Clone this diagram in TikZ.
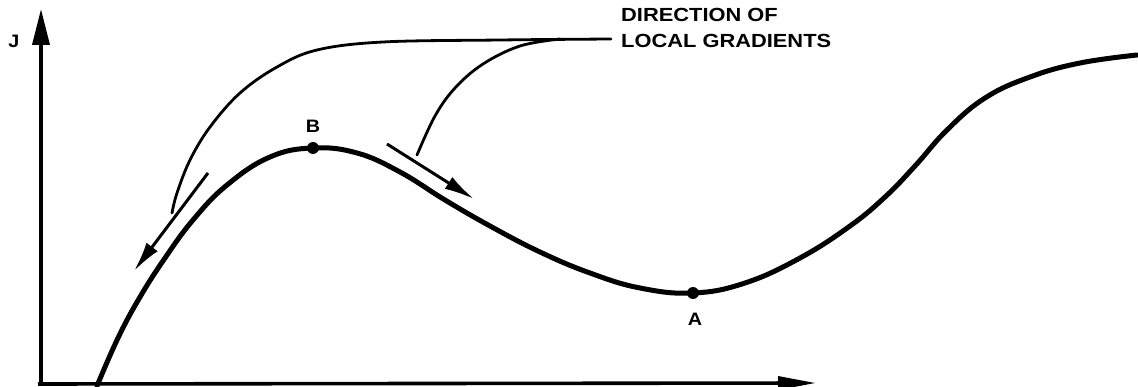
\documentclass[tikz,border=0pt]{standalone}
\usepackage{fontspec}
\setmainfont{Liberation Sans}
\usetikzlibrary{arrows.meta}
\begin{document}
\begin{tikzpicture}[x=1pt,y=-1pt,
  curve/.style={line width=5pt,line cap=round,line join=round},
  axis/.style={line width=3.6pt},
  leader/.style={line width=2.8pt,line cap=round},
  grad/.style={line width=3pt,-{Latex[length=30pt,width=14pt]}},
  dot/.style={circle,fill=black,inner sep=0pt,minimum size=12pt},
  lbl/.style={font=\fontsize{18}{18}\selectfont\bfseries,inner sep=0pt}]
\useasboundingbox (0,0) rectangle (1138,387);
% axes
\coordinate (O) at (41,384);
\coordinate (ytip) at (41,9);
\coordinate (xtip) at (816,383);
\draw[axis,-{Triangle[length=36pt,width=17pt]}] (O) -- (ytip);
\draw[axis,-{Triangle[length=38pt,width=13pt]}] (38,384) -- (xtip);
\node[lbl] (J) at (14,41) {\scalebox{1.1}[1]{J}};
% curve
\draw[curve] plot[smooth,tension=0.7] coordinates {
 (97,386) (118,338) (140,297) (165,258) (193,220) (227,185) (270,157) (313,148)
 (357,153) (400,172) (445,200) (490,226) (540,252) (590,273) (640,288) (693,293)
 (745,283) (800,258) (850,226) (885,197) (915,166) (947,130) (985,98) (1030,77)
 (1080,63) (1137,55)};
\node[dot] (B) at (313,148) {};
\node[dot] (A) at (693,293) {};
\node[lbl] (Bl) at (313,126) {\scalebox{1.1}[1]{B}};
\node[lbl] (Al) at (695,319) {\scalebox{1.1}[1]{A}};
% gradient arrows
\coordinate (g1s) at (208,173);
\coordinate (g1e) at (134,271);
\coordinate (g2s) at (387,144);
\coordinate (g2e) at (474,199);
\draw[grad] (g1s) -- (g1e);
\draw[grad] (g2s) -- (g2e);
% label and leaders
\node[lbl,anchor=north west,align=left,font=\fontsize{19}{26}\selectfont\bfseries] (txt) at (621,8)
  {\scalebox{1.15}[1]{DIRECTION OF}\\\scalebox{1.15}[1]{LOCAL GRADIENTS}};
\coordinate (lead) at (611,39);
\coordinate (l1e) at (172,213);
\coordinate (l2e) at (417,155);
\draw[leader] plot[smooth,tension=0.6] coordinates {(lead) (500,40) (383,42) (317,50) (277,67)
  (240,93) (210,127) (190,160) (177,193) (l1e)};
\draw[leader] plot[smooth,tension=0.6] coordinates {(560,39) (520,46) (483,64) (455,88) (435,116) (l2e)};
\end{tikzpicture}
\end{document}
